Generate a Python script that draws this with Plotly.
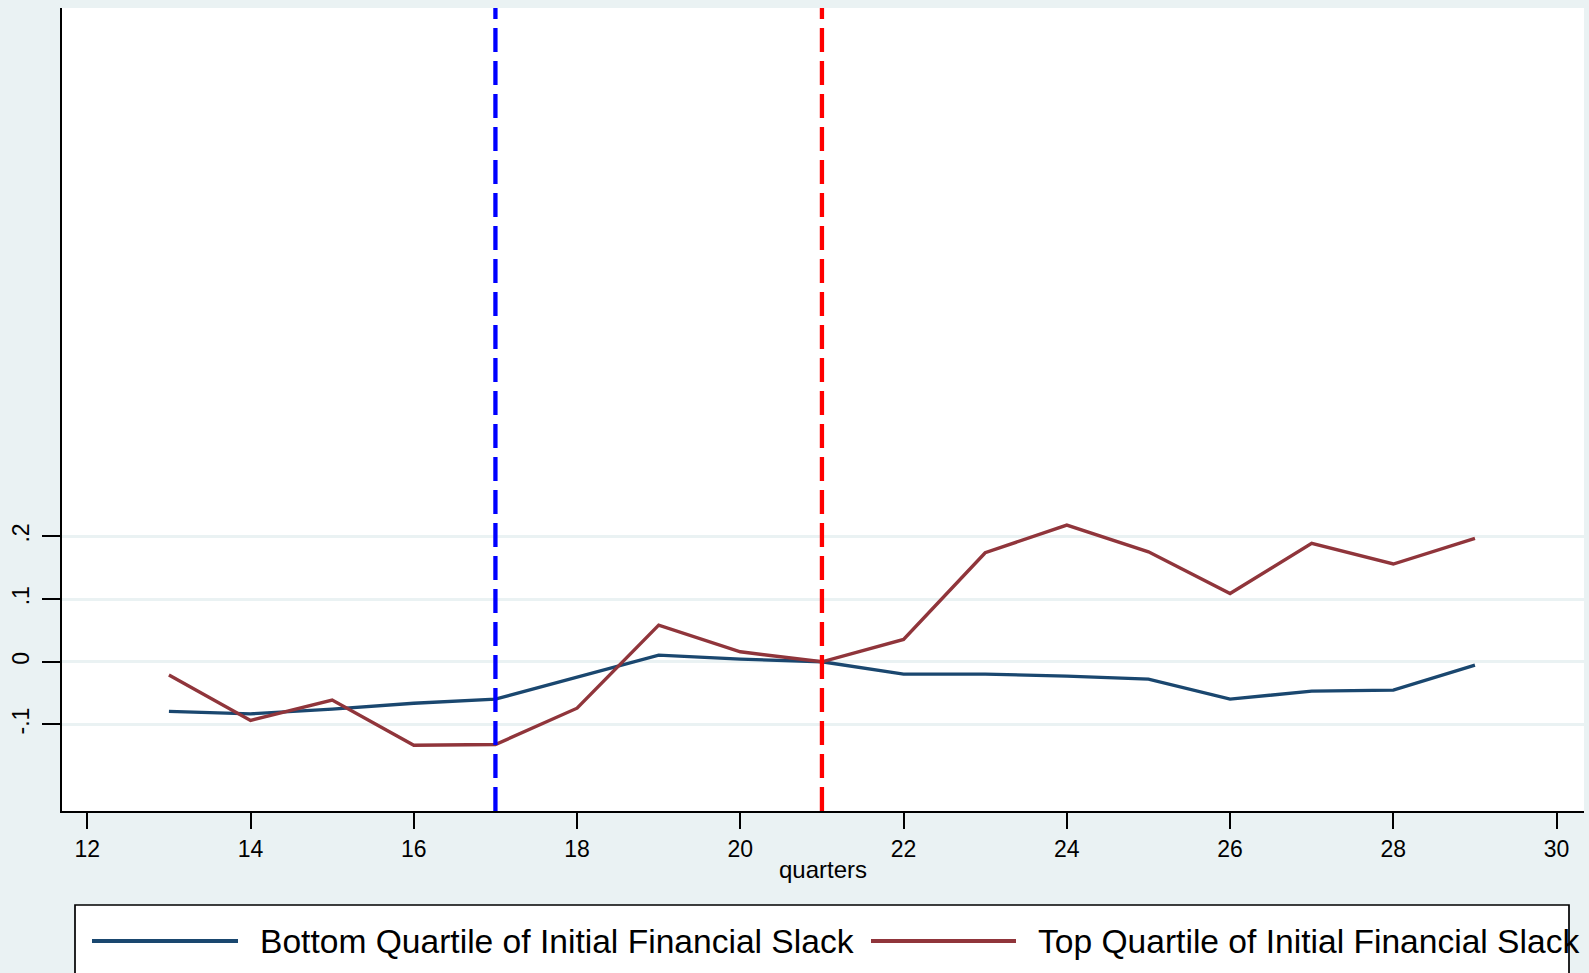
import plotly.graph_objects as go

# ---- data ----
quarters = list(range(13, 30))
bottom_quartile = [-0.079, -0.083, -0.0755, -0.066, -0.0595, -0.024, 0.0107, 0.0043, 0.0,
                   -0.0196, -0.0196, -0.0228, -0.0276, -0.0595, -0.0467, -0.0451, -0.0053]
top_quartile = [-0.021, -0.0935, -0.061, -0.133, -0.132, -0.074, 0.0585, 0.016, 0.0,
                0.0357, 0.174, 0.218, 0.1755, 0.109, 0.189, 0.156, 0.197]
series_names = ["Bottom Quartile of Initial Financial Slack",
                "Top Quartile of Initial Financial Slack"]
event_quarters = [17, 21]
x_ticks = list(range(12, 31, 2))
y_ticks = [-0.1, 0.0, 0.1, 0.2]
y_ticktext = ["-.1", "0", ".1", ".2"]

# ---- style ----
W, H = 1589, 973
L, R, T, B = 62, 1584, 8, 811
BG = "#EAF2F3"
BLUE = "#1A476F"
RED = "#90353B"
FONT = "Liberation Sans, Arial, sans-serif"
event_colors = ["#0000FF", "#FF0000"]


def px_x(p):
    return (p - L) / (R - L)


def px_y(p):
    return (B - p) / (B - T)


fig = go.Figure()
fig.add_trace(go.Scatter(x=quarters, y=bottom_quartile, mode="lines",
                         line=dict(color=BLUE, width=3.4), name=series_names[0]))
fig.add_trace(go.Scatter(x=quarters, y=top_quartile, mode="lines",
                         line=dict(color=RED, width=3.4), name=series_names[1]))

shapes = []
for q, c in zip(event_quarters, event_colors):
    shapes.append(dict(type="line", xref="x", yref="paper", x0=q, x1=q, y0=0, y1=1,
                       line=dict(color=c, width=4.3, dash="24px,9px"), layer="above"))

# legend box (custom, Stata-like)
shapes.append(dict(type="rect", xref="paper", yref="paper",
                   x0=px_x(75), x1=px_x(1569), y0=px_y(1000), y1=px_y(905),
                   line=dict(color="black", width=1.7), fillcolor="white", layer="below"))
shapes.append(dict(type="line", xref="paper", yref="paper",
                   x0=px_x(92), x1=px_x(238), y0=px_y(941), y1=px_y(941),
                   line=dict(color=BLUE, width=4)))
shapes.append(dict(type="line", xref="paper", yref="paper",
                   x0=px_x(871), x1=px_x(1016), y0=px_y(941), y1=px_y(941),
                   line=dict(color=RED, width=4)))

annotations = [
    dict(text=series_names[0], xref="paper", yref="paper", x=px_x(258), y=px_y(941),
         xanchor="left", yanchor="middle", showarrow=False,
         font=dict(family=FONT, size=33.6, color="black")),
    dict(text=series_names[1], xref="paper", yref="paper", x=px_x(1036), y=px_y(941),
         xanchor="left", yanchor="middle", showarrow=False,
         font=dict(family=FONT, size=33.6, color="black")),
]

fig.update_layout(
    width=W, height=H,
    margin=dict(l=L, r=W - R, t=T, b=H - B, pad=0),
    paper_bgcolor=BG, plot_bgcolor="white",
    showlegend=False,
    font=dict(family=FONT, color="black"),
    shapes=shapes, annotations=annotations,
    xaxis=dict(range=[11.69, 30.336], tickvals=x_ticks, ticks="outside", ticklen=16,
               tickwidth=1.5, tickcolor="black", showline=True, linecolor="black",
               linewidth=2, showgrid=False, zeroline=False,
               tickfont=dict(size=23, family=FONT, color="black"),
               title=dict(text="quarters", font=dict(size=24, family=FONT, color="black"),
                          standoff=1)),
    yaxis=dict(range=[-0.238, 1.043], tickvals=y_ticks, ticktext=y_ticktext,
               ticks="outside", ticklen=18, tickwidth=1.5, tickcolor="black",
               showline=True, linecolor="black", linewidth=1.7,
               showgrid=True, gridcolor=BG, gridwidth=2.5, zeroline=False,
               tickangle=-90, ticklabelstandoff=4,
               tickfont=dict(size=23, family=FONT, color="black")),
)

fig.write_html("out.html")
